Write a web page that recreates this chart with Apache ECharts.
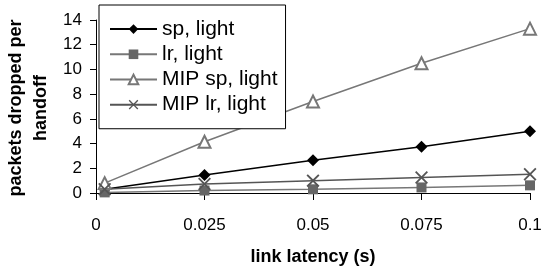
<!DOCTYPE HTML>
<html>
<head>
    <title>packets dropped per handoff</title>
    <script src="https://cdn.jsdelivr.net/npm/echarts@6.0.0/dist/echarts.min.js"></script>
    <style>
        body { margin: 0; background: #fff; }
    </style>
</head>
<body>
<div id="main" style="width: 542px;height: 270px;"></div>
<script type="text/javascript">

    var latency = [0.002, 0.025, 0.05, 0.075, 0.1];
    var xTicks = ['0', '0.025', '0.05', '0.075', '0.1'];
    // labels next to the ends get knocked out by the min/max check, so a twin axis draws them
    var yEndLabels = [0, 4, 6, 8, 10, 14];
    var yInnerLabels = [2, 12];

    var spLight = [0.3, 1.45, 2.65, 3.75, 5.0];
    var lrLight = [0.05, 0.2, 0.3, 0.45, 0.62];
    var mipSpLight = [0.8, 4.15, 7.4, 10.5, 13.3];
    var mipLrLight = [0.3, 0.73, 1.0, 1.25, 1.52];

    var names = ['sp, light', 'lr, light', 'MIP sp, light', 'MIP lr, light'];
    var yTitle = 'packets dropped per\nhandoff';

    var cross = 'path://M0,1L1,0L5,4L9,0L10,1L6,5L10,9L9,10L5,6L1,10L0,9L4,5Z';

    function pairs(ys){
        var out = [];
        for( var i=0; i<latency.length; i++ ){
            out.push([latency[i], ys[i]]);
        }
        return out;
    }

    function pick(list){
        return function (v) {
            return list.indexOf(Math.round(v)) >= 0 ? String(Math.round(v)) : '';
        };
    }

    var chartDom = document.getElementById('main');
    var myChart = echarts.init(chartDom);

    var font = 'Arial, "Liberation Sans", sans-serif';

    var yBase = {
        type: 'value',
        min: 0,
        max: 14,
        interval: 2,
        splitLine: { show: false }
    };

    var option = {
        animation: false,
        backgroundColor: '#fff',
        textStyle: { fontFamily: font },
        grid: { left: 96, right: 12, top: 20, bottom: 77, containLabel: false, outerBoundsMode: 'none' },
        // y axis title as a rotated text
        graphic: [{
            type: 'text',
            x: 29,
            y: 108,
            rotation: Math.PI / 2,
            style: {
                text: yTitle,
                font: 'bold 18px ' + font,
                lineHeight: 25,
                fill: '#000',
                align: 'center',
                verticalAlign: 'middle'
            }
        }],
        legend: {
            orient: 'vertical',
            left: 99,
            top: 5,
            itemWidth: 47,
            itemHeight: 12,
            itemGap: -11,
            padding: [6, 8, 6, 10],
            borderColor: '#000',
            borderWidth: 1,
            backgroundColor: '#fff',
            textStyle: { fontSize: 21, color: '#000', fontFamily: font },
            data: names
        },
        xAxis: {
            type: 'value',
            min: 0,
            max: 0.1,
            interval: 0.025,
            name: 'link latency (s)',
            nameLocation: 'middle',
            nameGap: 49,
            nameMoveOverlap: false,
            nameTextStyle: { fontSize: 18, fontWeight: 'bold', color: '#000' },
            axisLine: { lineStyle: { color: '#000' } },
            axisTick: { show: true, length: 7, lineStyle: { color: '#000' } },
            axisLabel: {
                fontSize: 17, color: '#000', margin: 18, hideOverlap: false,
                showMinLabel: true, showMaxLabel: true,
                formatter: function (v) {
                    var i = Math.round(v / 0.025);
                    return xTicks[i];
                }
            },
            splitLine: { show: false }
        },
        yAxis: [
            Object.assign({}, yBase, {
                axisLine: { show: true, lineStyle: { color: '#000' } },
                axisTick: { show: true, length: 6, lineStyle: { color: '#000' } },
                axisLabel: {
                    fontSize: 17, color: '#000', margin: 14, hideOverlap: false,
                    showMinLabel: true, showMaxLabel: true,
                    formatter: pick(yEndLabels)
                }
            }),
            Object.assign({}, yBase, {
                position: 'left',
                axisLine: { show: false },
                axisTick: { show: false },
                axisLabel: {
                    fontSize: 17, color: '#000', margin: 14, hideOverlap: false,
                    showMinLabel: true, showMaxLabel: true,
                    formatter: pick(yInnerLabels)
                }
            })
        ],
        series: [
            {
                name: names[0],
                type: 'line',
                data: pairs(spLight),
                symbol: 'diamond',
                symbolSize: 12,
                lineStyle: { color: '#000', width: 1.5 },
                itemStyle: { color: '#000' }
            },
            {
                name: names[1],
                type: 'line',
                data: pairs(lrLight),
                symbol: 'rect',
                symbolSize: 10,
                lineStyle: { color: '#777', width: 1.5 },
                itemStyle: { color: '#666' }
            },
            {
                name: names[2],
                type: 'line',
                data: pairs(mipSpLight),
                symbol: 'emptyTriangle',
                symbolSize: 12,
                lineStyle: { color: '#777', width: 1.5 },
                itemStyle: { color: '#777', borderWidth: 1.5 }
            },
            {
                name: names[3],
                type: 'line',
                data: pairs(mipLrLight),
                symbol: cross,
                symbolSize: 13,
                lineStyle: { color: '#555', width: 1.5 },
                itemStyle: { color: '#555' }
            }
        ]
    };

    myChart.setOption(option);

</script>
</body>
</html>
